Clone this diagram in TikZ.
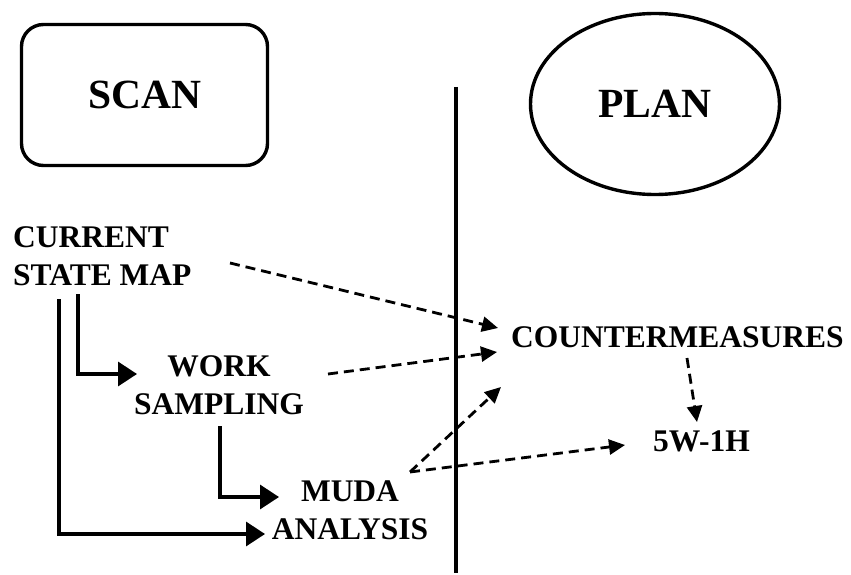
\documentclass[tikz,border=0pt]{standalone}
\usepackage{fontspec}
\setmainfont{Liberation Serif}
\usetikzlibrary{arrows.meta,shapes.geometric}
\begin{document}
\begin{tikzpicture}[x=1pt,y=-1pt,
  lbl/.style={font=\bfseries\fontsize{31.5}{37.5}\selectfont, inner sep=0pt, align=center},
  title/.style={font=\bfseries\fontsize{41.5}{48}\selectfont, draw, line width=3.4pt, inner sep=0pt},
  flow/.style={line width=3.3pt, -{Triangle[length=19pt,width=24pt]}},
  dflow/.style={line width=2.8pt, dash pattern=on 10pt off 6pt, -{Triangle[length=16pt,width=15pt]}}
]
\useasboundingbox (0,0) rectangle (851,575);

% phase headings
\node[title, rectangle, rounded corners=22pt, minimum width=246pt, minimum height=141pt] (scan) at (144.5,95) {SCAN};
\node[title, ellipse, minimum width=249pt, minimum height=181pt] (plan) at (655,104) {PLAN};

% divider between the two phases
\coordinate (divtop) at (456,87);
\coordinate (divbot) at (456,573);
\draw[line width=4pt] (divtop) -- (divbot);

% activity labels
\node[lbl, align=left, anchor=south west] (csm) at (13,286) {CURRENT\\STATE MAP};
\node[lbl, anchor=south] (ws) at (219,415) {WORK\\SAMPLING};
\node[lbl, anchor=south] (muda) at (350,540) {MUDA\\ANALYSIS};
\node[lbl, anchor=south] (cm) at (677.5,348) {COUNTERMEASURES};
\node[lbl, anchor=south] (wh) at (701.5,452) {5W-1H};

% connector end points
\coordinate (csmA) at (59,299);
\coordinate (csmB) at (78,294);
\coordinate (csmR) at (230,263);
\coordinate (wsB) at (220,426);
\coordinate (wsR) at (328,374);
\coordinate (mudaR) at (410,472);
\coordinate (wsIn) at (137,374);
\coordinate (mudaIn) at (279,497);
\coordinate (anaIn) at (265,534);
\coordinate (cmIn1) at (498,328);
\coordinate (cmIn2) at (497,352);
\coordinate (cmIn3) at (501,387);
\coordinate (cmOut) at (687,358);
\coordinate (whIn1) at (697,422);
\coordinate (whIn2) at (625,445);

% scan flow
\draw[flow] (csmB) |- (wsIn);
\draw[flow] (csmA) |- (anaIn);
\draw[flow] (wsB) |- (mudaIn);

% links into the plan phase
\draw[dflow] (csmR) -- (cmIn1);
\draw[dflow] (wsR) -- (cmIn2);
\draw[dflow] (mudaR) -- (cmIn3);
\draw[dflow] (mudaR) -- (whIn2);
\draw[dflow] (cmOut) -- (whIn1);
\end{tikzpicture}
\end{document}
